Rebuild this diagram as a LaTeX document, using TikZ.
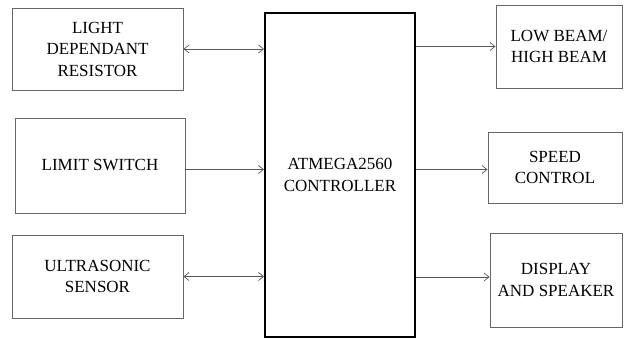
\documentclass[tikz,border=0pt]{standalone}
\usepackage{fontspec}
\setmainfont{Liberation Serif}
\usetikzlibrary{arrows.meta,positioning,calc}

\begin{document}
\begin{tikzpicture}[
  x=1pt, y=-1pt,
  font=\fontsize{17}{21.5}\selectfont,
  block/.style={draw=black!60, line width=0.9pt, align=center, inner sep=2pt},
  ctrlbox/.style={draw=black, line width=2pt, align=center, inner sep=2pt},
  link/.style={-{Straight Barb[length=5pt, width=8pt]}, line width=0.7pt, draw=black!65},
  duplex/.style={{Straight Barb[length=5pt, width=8pt]}-{Straight Barb[length=5pt, width=8pt]}, line width=0.7pt, draw=black!65}
]
\useasboundingbox (0,0) rectangle (626,339);

% Input side
\node[block, minimum width=171pt, minimum height=82pt] (ldr) at (97.5,49) {LIGHT\\DEPENDANT\\RESISTOR};
\node[block, minimum width=170pt, minimum height=95pt] (limit) at (100,165.5) {LIMIT SWITCH};
\node[block, minimum width=171pt, minimum height=83pt] (ultra) at (97.5,276.5) {ULTRASONIC\\SENSOR};

% Controller
\node[ctrlbox, minimum width=150pt, minimum height=324pt] (ctrl) at (340,175) {ATMEGA2560\\CONTROLLER};

% Output side
\node[block, minimum width=126pt, minimum height=83pt] (beam) at (559,46.5) {LOW BEAM/\\HIGH BEAM};
\node[block, minimum width=134pt, minimum height=71pt] (speed) at (555,167.5) {SPEED\\CONTROL};
\node[block, minimum width=132pt, minimum height=94pt] (disp) at (556,280) {DISPLAY\\AND SPEAKER};

% Connections
\draw[duplex] (ldr.east) -- (ldr.east -| ctrl.west);
\draw[link] ($(limit.east)+(0,4)$) -- ($(limit.east -| ctrl.west)+(0,4)$);
\draw[duplex] (ultra.east) -- (ultra.east -| ctrl.west);
\draw[link] (beam.west -| ctrl.east) -- (beam.west);
\draw[link] ($(speed.west -| ctrl.east)+(0,2)$) -- ($(speed.west)+(0,2)$);
\draw[link] ($(disp.west -| ctrl.east)+(0,-3)$) -- ($(disp.west)+(0,-3)$);

\end{tikzpicture}
\end{document}
